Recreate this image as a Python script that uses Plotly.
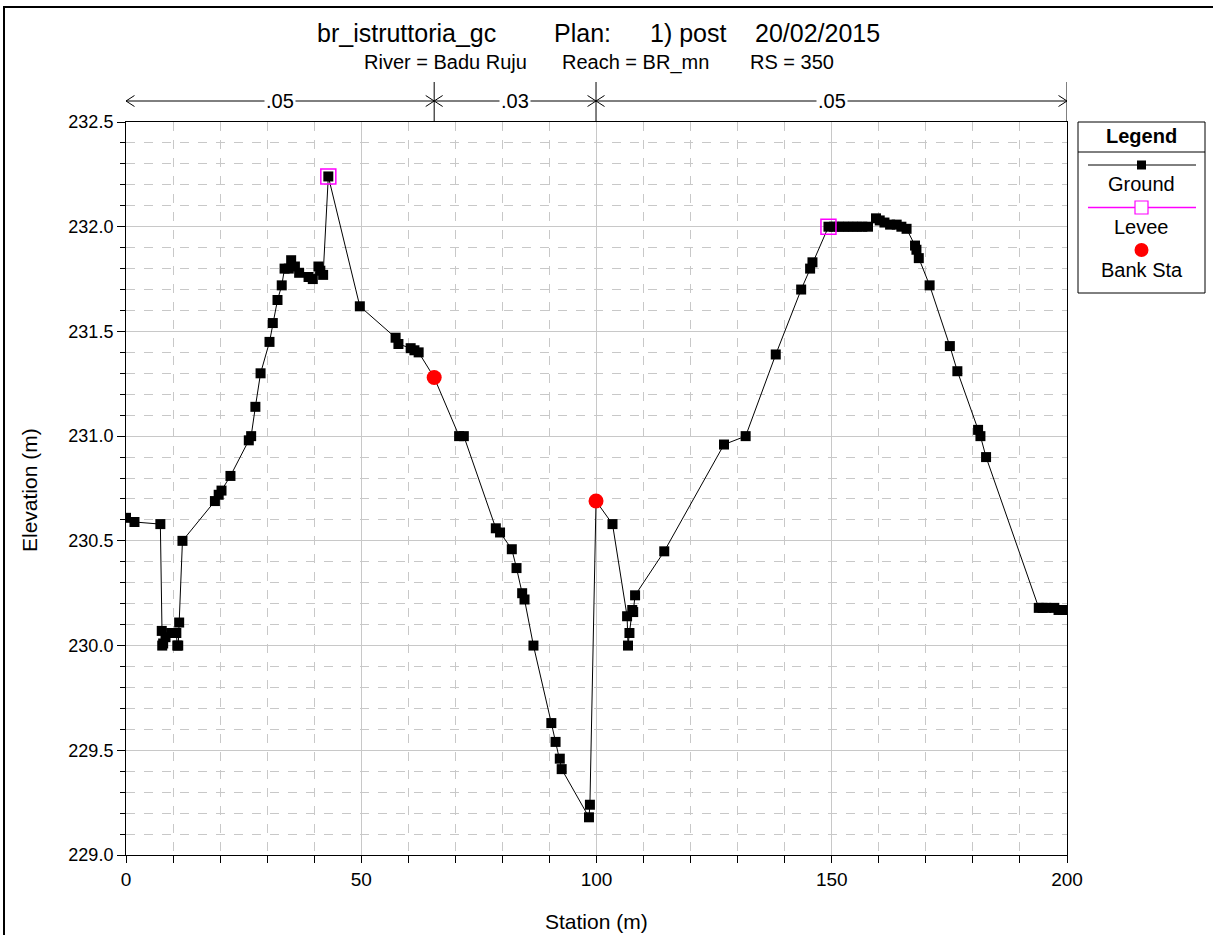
import plotly.graph_objects as go

# Cross-section ground profile (station m, elevation m)
station = [0.0, 1.8, 7.3, 7.6, 7.7, 7.9, 8.4, 9.6, 10.7, 10.9, 11.1, 11.3, 12.0,
           18.9, 19.7, 20.3, 22.2, 26.1, 26.6, 27.5, 28.6, 30.5, 31.2, 32.2, 33.1,
           33.7, 34.6, 35.1, 35.9, 36.8, 38.8, 39.7, 40.9, 41.3, 41.9, 43.0, 49.7,
           57.3, 57.9, 60.5, 61.3, 62.2, 65.5, 70.8, 71.8, 78.6, 79.5, 82.0, 83.0,
           84.2, 84.7, 86.6, 90.4, 91.3, 92.2, 92.6, 98.4, 98.6, 99.9, 103.4, 106.5,
           106.7, 107.0, 107.6, 107.8, 108.2, 114.4, 127.1, 131.7, 138.1, 143.5,
           145.4, 145.9, 149.3, 150.5, 151.5, 152.5, 153.5, 154.5, 155.5, 156.5,
           157.7, 159.4, 160.2, 161.2, 162.4, 163.8, 164.8, 165.9, 167.7, 168.0,
           168.5, 170.8, 175.1, 176.7, 181.1, 181.6, 182.8, 194.0, 194.8, 195.6,
           197.3, 198.2, 199.1, 200.0]
elevation = [230.61, 230.59, 230.58, 230.07, 230.00, 230.01, 230.04, 230.06, 230.06,
             230.00, 230.00, 230.11, 230.50, 230.69, 230.72, 230.74, 230.81, 230.98,
             231.00, 231.14, 231.30, 231.45, 231.54, 231.65, 231.72, 231.80, 231.80,
             231.84, 231.81, 231.78, 231.76, 231.75, 231.81, 231.79, 231.77, 232.24,
             231.62, 231.47, 231.44, 231.42, 231.41, 231.40, 231.28, 231.00, 231.00,
             230.56, 230.54, 230.46, 230.37, 230.25, 230.22, 230.00, 229.63, 229.54,
             229.46, 229.41, 229.18, 229.24, 230.69, 230.58, 230.14, 230.00, 230.06,
             230.17, 230.16, 230.24, 230.45, 230.96, 231.00, 231.39, 231.70, 231.80,
             231.83, 232.00, 232.00, 232.00, 232.00, 232.00, 232.00, 232.00, 232.00,
             232.00, 232.04, 232.03, 232.02, 232.01, 232.01, 232.00, 231.99, 231.91,
             231.89, 231.85, 231.72, 231.43, 231.31, 231.03, 231.00, 230.90, 230.18,
             230.18, 230.18, 230.18, 230.17, 230.17, 230.17]

levee_station = [43.0, 149.3]
levee_elevation = [232.24, 232.00]

bank_station = [65.5, 99.9]
bank_elevation = [231.28, 230.69]

# Manning's n per reach between the section ends and the bank stations
manning_n = [0.05, 0.03, 0.05]
n_bounds = [0.0, bank_station[0], bank_station[1], 200.0]

x_range = [0, 200]
y_range = [229.0, 232.5]

FONT = "Liberation Sans, Arial, sans-serif"
W, H = 1213, 935
L, R, T, B = 126, 146, 122, 80
PW, PH = W - L - R, H - T - B


def px(x):
    return (x - L) / PW


def py(y):
    return (H - B - y) / PH


fig = go.Figure()

fig.add_trace(go.Scatter(
    x=station, y=elevation, mode="lines+markers", name="Ground",
    line=dict(color="black", width=1),
    marker=dict(symbol="square", size=10, color="black"),
    showlegend=False,
))
fig.add_trace(go.Scatter(
    x=levee_station, y=levee_elevation, mode="markers", name="Levee",
    marker=dict(symbol="square-open", size=15, color="#ff00ff", line=dict(width=1.5)),
    showlegend=False,
))
fig.add_trace(go.Scatter(
    x=bank_station, y=bank_elevation, mode="markers", name="Bank Sta",
    marker=dict(symbol="circle", size=15, color="#ff0000"),
    showlegend=False,
))

shapes = []
annotations = []

# Outer frame of the drawing
shapes.append(dict(type="rect", xref="paper", yref="paper",
                   x0=px(4), x1=px(1300), y0=py(1000), y1=py(7),
                   line=dict(color="black", width=2)))

# Manning's n bands above the plot
y_arrow = py(101)
y_top = py(82)
dx = 1.8
dy = 0.0075
for b in n_bounds[1:]:
    shapes.append(dict(type="line", xref="x", yref="paper", x0=b, x1=b,
                       y0=1.0, y1=y_top, line=dict(color="black", width=1)))
for i, n in enumerate(manning_n):
    a, b = n_bounds[i], n_bounds[i + 1]
    shapes.append(dict(type="line", xref="x", yref="paper", x0=a, x1=b,
                       y0=y_arrow, y1=y_arrow, line=dict(color="black", width=1)))
    # chevrons pointing at both ends of the band
    shapes.append(dict(type="path", xref="x", yref="paper",
                       path=f"M {a + dx} {y_arrow + dy} L {a} {y_arrow} L {a + dx} {y_arrow - dy}",
                       line=dict(color="black", width=1)))
    shapes.append(dict(type="path", xref="x", yref="paper",
                       path=f"M {b - dx} {y_arrow + dy} L {b} {y_arrow} L {b - dx} {y_arrow - dy}",
                       line=dict(color="black", width=1)))
    annotations.append(dict(x=(a + b) / 2, y=y_arrow, xref="x", yref="paper",
                            text=f"{n:.2f}".lstrip("0"), showarrow=False,
                            xanchor="center", yanchor="middle",
                            bgcolor="white", borderpad=1,
                            font=dict(family=FONT, size=20, color="black")))

# Titles
title_parts = [("br_istruttoria_gc", 315), ("Plan:", 552), ("1) post", 648), ("20/02/2015", 753)]
for txt, x0 in title_parts:
    annotations.append(dict(x=px(x0), y=py(33), xref="paper", yref="paper", text=txt,
                            xanchor="left", yanchor="middle", showarrow=False,
                            font=dict(family=FONT, size=25, color="black")))
sub_parts = [("River = Badu Ruju", 362), ("Reach = BR_mn", 560), ("RS = 350", 748)]
for txt, x0 in sub_parts:
    annotations.append(dict(x=px(x0), y=py(62), xref="paper", yref="paper", text=txt,
                            xanchor="left", yanchor="middle", showarrow=False,
                            font=dict(family=FONT, size=20, color="black")))

# Axis titles
annotations.append(dict(x=0.5, y=py(921), xref="paper", yref="paper", text="Station (m)",
                        showarrow=False, xanchor="center", yanchor="middle",
                        font=dict(family=FONT, size=21, color="black")))
annotations.append(dict(x=px(30), y=py(490), xref="paper", yref="paper", text="Elevation (m)",
                        showarrow=False, textangle=-90, xanchor="center", yanchor="middle",
                        font=dict(family=FONT, size=21, color="black")))

# Legend box
lx0, lx1, ly0, ly1 = 1078, 1205, 122, 293
lcx = (lx0 + lx1) / 2
shapes.append(dict(type="rect", xref="paper", yref="paper",
                   x0=px(lx0), x1=px(lx1), y0=py(ly1), y1=py(ly0),
                   line=dict(color="black", width=1), fillcolor="white"))
shapes.append(dict(type="line", xref="paper", yref="paper",
                   x0=px(lx0), x1=px(lx1), y0=py(152), y1=py(152),
                   line=dict(color="black", width=1)))
annotations.append(dict(x=px(lcx), y=py(136), xref="paper", yref="paper",
                        text="<b>Legend</b>", showarrow=False,
                        xanchor="center", yanchor="middle",
                        font=dict(family=FONT, size=20, color="black")))
# Ground sample
shapes.append(dict(type="line", xref="paper", yref="paper",
                   x0=px(1088), x1=px(1196), y0=py(165), y1=py(165),
                   line=dict(color="black", width=1)))
shapes.append(dict(type="rect", xref="paper", yref="paper",
                   x0=px(lcx - 4.5), x1=px(lcx + 4.5), y0=py(169.5), y1=py(160.5),
                   line=dict(width=0), fillcolor="black"))
# Levee sample
shapes.append(dict(type="line", xref="paper", yref="paper",
                   x0=px(1088), x1=px(1196), y0=py(207.5), y1=py(207.5),
                   line=dict(color="#ff00ff", width=1.5)))
shapes.append(dict(type="rect", xref="paper", yref="paper",
                   x0=px(lcx - 6.5), x1=px(lcx + 6.5), y0=py(214), y1=py(201),
                   line=dict(color="#ff00ff", width=1.2), fillcolor="white"))
# Bank station sample
shapes.append(dict(type="circle", xref="paper", yref="paper",
                   x0=px(lcx - 7), x1=px(lcx + 7), y0=py(257), y1=py(243),
                   line=dict(width=0), fillcolor="#ff0000"))
for txt, yy in [("Ground", 184), ("Levee", 227), ("Bank Sta", 270)]:
    annotations.append(dict(x=px(lcx), y=py(yy), xref="paper", yref="paper",
                            text=txt, showarrow=False, xanchor="center", yanchor="middle",
                            font=dict(family=FONT, size=20, color="black")))

grid_c = "#c8c8c8"
fig.update_layout(
    width=W, height=H,
    margin=dict(l=L, r=R, t=T, b=B),
    paper_bgcolor="white", plot_bgcolor="white",
    showlegend=False,
    shapes=shapes, annotations=annotations,
    font=dict(family=FONT, color="black"),
    xaxis=dict(
        range=x_range, dtick=50, tick0=0, showline=True, linecolor="black", linewidth=1,
        mirror=True, ticks="outside", ticklen=7, tickcolor="black",
        showgrid=True, gridcolor=grid_c, gridwidth=1, zeroline=False,
        tickfont=dict(family=FONT, size=19, color="black"),
        minor=dict(dtick=10, ticks="outside", ticklen=7, tickcolor="black",
                   showgrid=True, gridcolor=grid_c, griddash="dash", gridwidth=1),
    ),
    yaxis=dict(
        range=y_range, dtick=0.5, tick0=229, tickformat=".1f", showline=True,
        linecolor="black", linewidth=1, mirror=True, ticks="outside", ticklen=8,
        tickcolor="black", showgrid=True, gridcolor=grid_c, gridwidth=1, zeroline=False,
        tickfont=dict(family=FONT, size=18, color="black"),
        minor=dict(dtick=0.1, ticks="outside", ticklen=5, tickcolor="black",
                   showgrid=True, gridcolor=grid_c, griddash="dash", gridwidth=1),
    ),
)

fig.write_html("out.html")
